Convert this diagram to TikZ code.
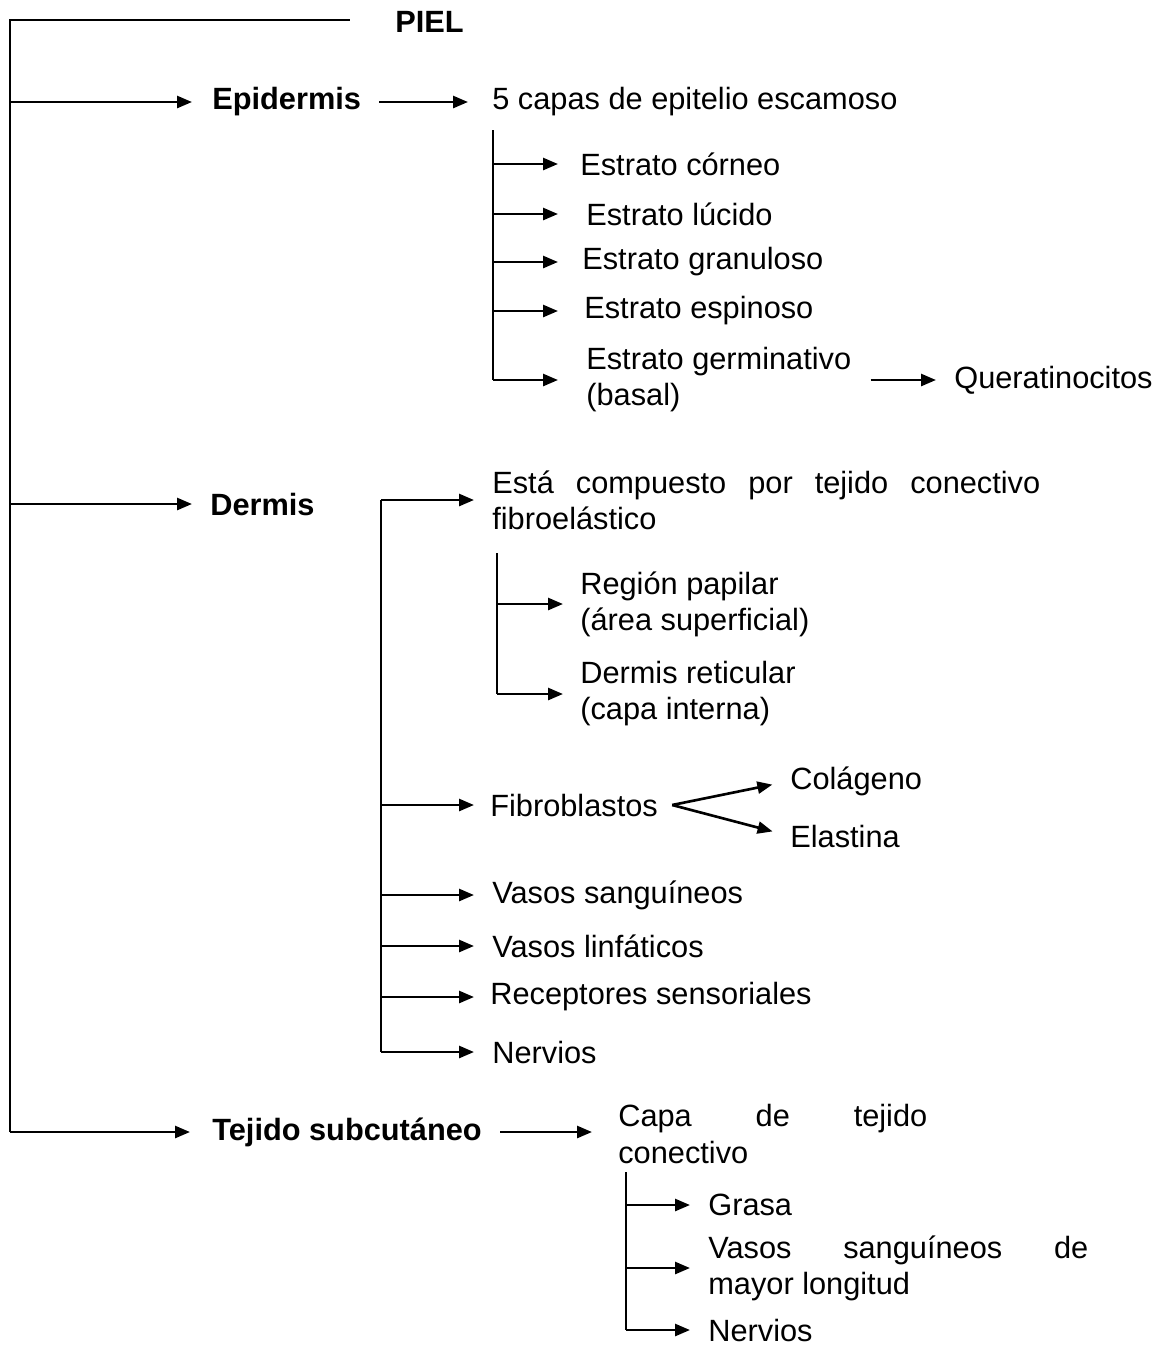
\documentclass[tikz,border=0pt]{standalone}
\usepackage{fontspec}
\setmainfont{Liberation Sans}
\usetikzlibrary{arrows.meta}
\begin{document}
\begin{tikzpicture}[x=0.02cm,y=-0.02cm,
  font=\fontsize{17.5}{20.5}\selectfont,
  txt/.style={anchor=west,inner sep=0,align=left},
  bld/.style={txt,font=\fontsize{17.5}{20.5}\selectfont\bfseries},
  ln/.style={line width=1.5pt},
  arr/.style={ln,-{Triangle[length=0.3cm,width=0.24cm]},shorten >=0.4cm}]
\useasboundingbox (0,0) rectangle (1165,1347);
% nodes
\node[bld] (piel) at (395,22) {PIEL};
\node[bld] (epi) at (212,102) {Epidermis};
\node[txt] (capas) at (492,102) {5 capas de epitelio escamoso};
\node[txt] (cor) at (580,164) {Estrato córneo};
\node[txt] (luc) at (586,214) {Estrato lúcido};
\node[txt] (gra) at (582,262) {Estrato granuloso};
\node[txt] (esp) at (584,311) {Estrato espinoso};
\node[txt] (ger) at (586,380) {Estrato germinativo\\(basal)};
\node[txt] (que) at (954,380) {Queratinocitos};
\node[bld] (der) at (210,504) {Dermis};
\node[txt] (comp) at (492,500) {\hbox to 10.96cm{Está\hfill compuesto\hfill por\hfill tejido\hfill conectivo}\\fibroelástico};
\node[txt] (pap) at (580,604) {Región papilar\\(área superficial)};
\node[txt] (ret) at (580,694) {Dermis reticular\\(capa interna)};
\node[txt] (fib) at (490,805) {Fibroblastos};
\node[txt] (col) at (790,781) {Colágeno};
\node[txt] (ela) at (790,836) {Elastina};
\node[txt] (vsa) at (492,895) {Vasos sanguíneos};
\node[txt] (vli) at (492,946) {Vasos linfáticos};
\node[txt] (rec) at (490,997) {Receptores sensoriales};
\node[txt] (ner) at (492,1052) {Nervios};
\node[bld] (tej) at (212,1132) {Tejido subcutáneo};
\node[txt] (capa) at (618,1134) {\hbox to 6.18cm{Capa\hfill de\hfill tejido}\\conectivo};
\node[txt] (gras) at (708,1205) {Grasa};
\node[txt] (vsm) at (708,1268) {\hbox to 7.6cm{Vasos\hfill sanguíneos\hfill de}\\mayor longitud};
\node[txt] (ner2) at (708,1330) {Nervios};
% trunk coordinates
\coordinate (mtop) at (10,20);
\coordinate (mbot) at (10,1132);
\coordinate (etop) at (493,130);
\coordinate (dtop) at (381,500);
\coordinate (rtop) at (497,553);
\coordinate (stop) at (626,1172);
% main trunk
\draw[ln] (mbot) -- (mtop) -- ([xshift=-0.9cm]piel.west |- mtop);
\draw[arr] (mtop |- epi.west) -- (epi.west);
\draw[arr,shorten >=0.36cm] (mtop |- der.west) -- (der.west);
\draw[arr,shorten >=0.44cm] (mbot) -- (tej.west);
% epidermis
\draw[arr,shorten <=0.36cm,shorten >=0.48cm] (epi.east) -- (capas.west);
\draw[ln] (etop) -- (etop |- ger.west);
\draw[arr,shorten >=0.44cm] (etop |- cor.west) -- (cor.west);
\draw[arr,shorten >=0.56cm] (etop |- luc.west) -- (luc.west);
\draw[arr,shorten >=0.48cm] (etop |- gra.west) -- (gra.west);
\draw[arr,shorten >=0.52cm] (etop |- esp.west) -- (esp.west);
\draw[arr,shorten >=0.56cm] (etop |- ger.west) -- (ger.west);
\draw[arr,shorten <=0.38cm,shorten >=0.36cm] (ger.east) -- (que.west);
% dermis
\draw[ln] (dtop) -- (dtop |- ner.west);
\draw[arr,shorten >=0.36cm] (dtop) -- (comp.west);
\draw[ln] (rtop) -- (rtop |- ret.west);
\draw[arr,shorten >=0.34cm] (rtop |- pap.west) -- (pap.west);
\draw[arr,shorten >=0.34cm] (rtop |- ret.west) -- (ret.west);
\draw[arr,shorten >=0.32cm] (dtop |- fib.west) -- (fib.west);
\coordinate (fork) at ([xshift=0.28cm]fib.east);
\draw[arr,shorten >=0.36cm] (fork) -- (col.west);
\draw[arr,shorten >=0.36cm] (fork) -- (ela.west);
\draw[arr,shorten >=0.36cm] (dtop |- vsa.west) -- (vsa.west);
\draw[arr,shorten >=0.36cm] (dtop |- vli.west) -- (vli.west);
\draw[arr,shorten >=0.32cm] (dtop |- rec.west) -- (rec.west);
\draw[arr,shorten >=0.36cm] (dtop |- ner.west) -- (ner.west);
% subcutaneo
\draw[arr,shorten <=0.36cm,shorten >=0.52cm] (tej.east) -- (tej.east -| capa.west);
\draw[ln] (stop) -- (stop |- ner2.west);
\draw[arr,shorten >=0.36cm] (stop |- gras.west) -- (gras.west);
\draw[arr,shorten >=0.36cm] (stop |- vsm.west) -- (vsm.west);
\draw[arr,shorten >=0.36cm] (stop |- ner2.west) -- (ner2.west);
\end{tikzpicture}
\end{document}
